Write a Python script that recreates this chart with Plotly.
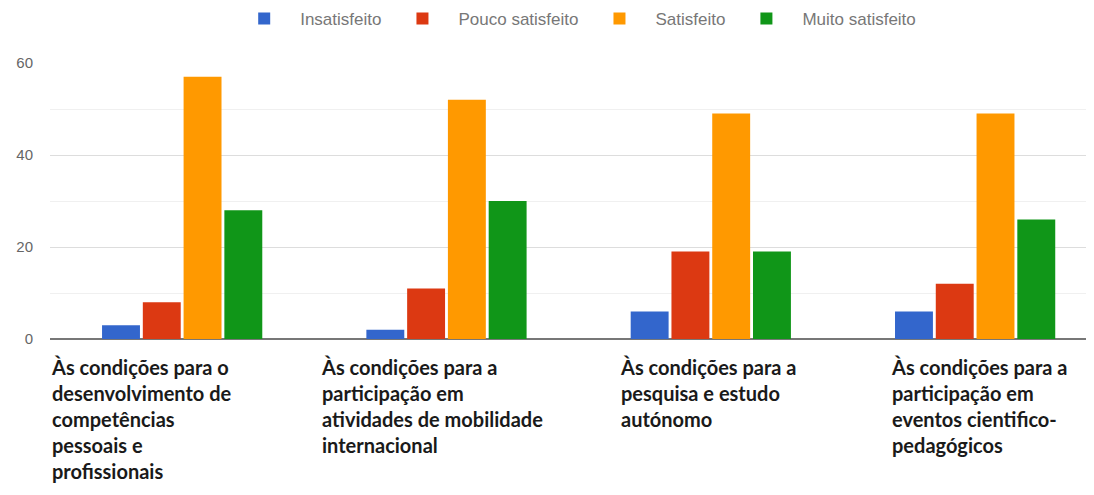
import plotly.graph_objects as go

categories = [
    "Às condições para o<br>desenvolvimento de<br>competências<br>pessoais e<br>profissionais",
    "Às condições para a<br>participação em<br>atividades de mobilidade<br>internacional",
    "Às condições para a<br>pesquisa e estudo<br>autónomo",
    "Às condições para a<br>participação em<br>eventos cientifico-<br>pedagógicos",
]
series_names = ["Insatisfeito", "Pouco satisfeito", "Satisfeito", "Muito satisfeito"]
insatisfeito = [3, 2, 6, 6]
pouco_satisfeito = [8, 11, 19, 12]
satisfeito = [57, 52, 49, 49]
muito_satisfeito = [28, 30, 19, 26]
y_ticks = [0, 20, 40, 60]

colors = ["#3366cc", "#dc3912", "#ff9900", "#109618"]
values = [insatisfeito, pouco_satisfeito, satisfeito, muito_satisfeito]
xs = list(range(len(categories)))

fig = go.Figure()
for name, vals, col in zip(series_names, values, colors):
    fig.add_trace(go.Bar(x=xs, y=vals, name=name, marker=dict(color=col, line=dict(width=0))))

label_shift = [-133, -127, -93, -86]
for i, (cat, sh) in enumerate(zip(categories, label_shift)):
    fig.add_annotation(
        x=i, y=0, xref="x", yref="y", text=cat, showarrow=False,
        xanchor="left", yanchor="top", align="left", xshift=sh, yshift=-14,
        font=dict(family="Lato", size=20, color="#1a1a1a", weight=700),
    )

fig.update_layout(
    width=1094, height=495,
    margin=dict(l=42, r=0, t=55, b=164, autoexpand=False),
    paper_bgcolor="white", plot_bgcolor="white",
    barmode="group", bargap=0.383, bargroupgap=0.07,
    legend=dict(orientation="h", x=0.518, xref="container", xanchor="center",
                y=1.16, yref="paper", yanchor="middle",
                font=dict(family="Arial", size=17, color="#777777"),
                itemwidth=62, traceorder="normal"),
    xaxis=dict(range=[-0.5, 3.48], showticklabels=False, showgrid=False, zeroline=False,
               showline=False, fixedrange=True, automargin=False),
    yaxis=dict(range=[0, 60], tickvals=y_ticks, ticktext=[str(v) for v in y_ticks],
               tickfont=dict(family="Arial", size=15, color="#666666"),
               showgrid=True, gridcolor="#dddddd", gridwidth=1,
               minor=dict(dtick=10, showgrid=True, gridcolor="#f0f0f0", gridwidth=1),
               zeroline=True, zerolinecolor="#777777", zerolinewidth=2,
               ticks="", ticklabelstandoff=16, automargin=False),
)

fig.write_html("out.html")
